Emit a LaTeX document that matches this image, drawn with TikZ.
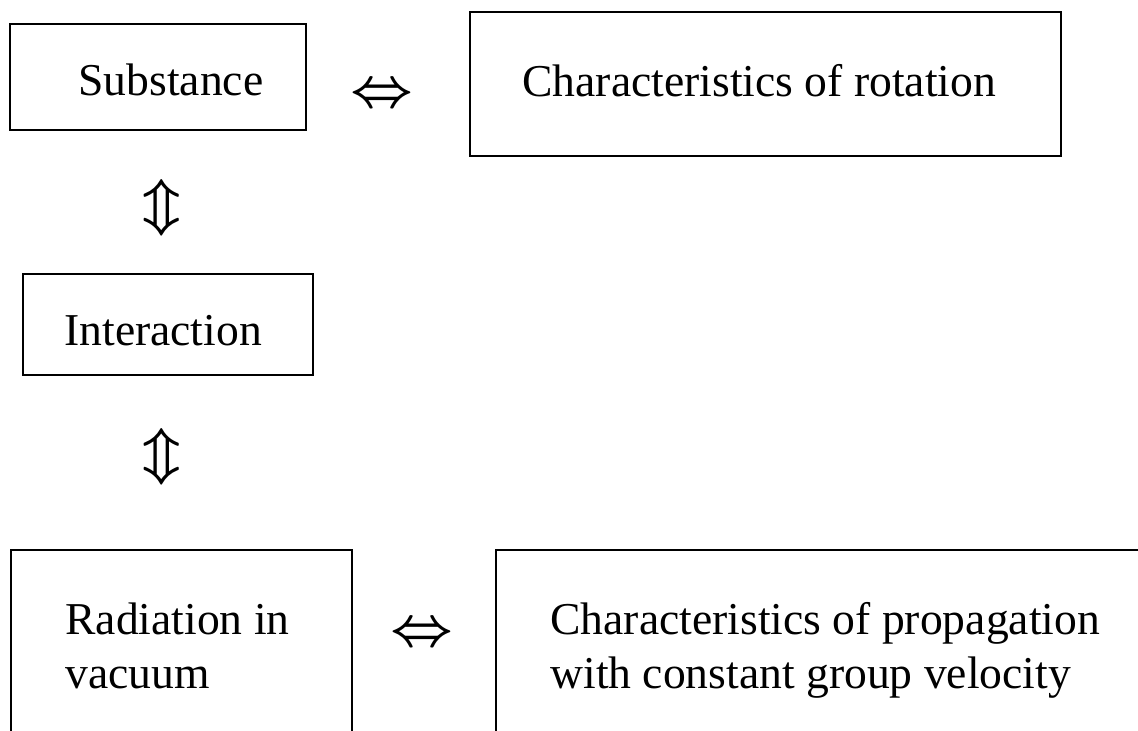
\documentclass[tikz,border=0pt]{standalone}
\usepackage{fontspec}
\setmainfont{Liberation Serif}
\usepackage{amssymb}
\usepackage{tikz}

\begin{document}
\begin{tikzpicture}[x = 0.5pt, y = -0.5pt,
    box/.style = {draw, line width = 0.75pt},
    testo/.style = {anchor = base west, inner sep = 0pt, align = left,
        font = \fontsize{22.8}{27}\selectfont},
    freccia/.style = {inner sep = 0pt, scale = 1.1, transform shape,
        font = \fontsize{36}{36}\selectfont\boldmath},
    frecciav/.style = {inner sep = 0pt, scale = 1.1, transform shape,
        font = \fontsize{31}{31}\selectfont\boldmath}]
    % Parametri
    \pgfmathsetmacro{\xcol}{162}
    \pgfmathsetmacro{\ytop}{96}
    \pgfmathsetmacro{\ybot}{635}
    \clip (0,0) rectangle (1138,730);
    % Riga superiore
    \draw[box] (10,24) rectangle (306,130);
    \node[testo] (subst) at (78,95) {Substance};
    \node[freccia] (lrtop) at (382,\ytop) {$\Leftrightarrow$};
    \draw[box] (470,12) rectangle (1061,156);
    \node[testo] (rotat) at (522,96) {Characteristics of rotation};
    % Colonna di sinistra
    \node[frecciav] (udtop) at (\xcol,208) {$\Updownarrow$};
    \draw[box] (23,274) rectangle (313,375);
    \node[testo] (inter) at (64,345) {Interaction};
    \node[frecciav] (udbot) at (\xcol,457) {$\Updownarrow$};
    % Riga inferiore
    \draw[box] (11,550) rectangle (352,760);
    \node[testo] (radia) at (65,688) {Radiation in\\vacuum};
    \node[freccia] (lrbot) at (421.5,\ybot) {$\Leftrightarrow$};
    \draw[box] (496,550) rectangle (1160,760);
    \node[testo] (propa) at (550,688) {Characteristics of propagation\\with constant group velocity};
\end{tikzpicture}
\end{document}
